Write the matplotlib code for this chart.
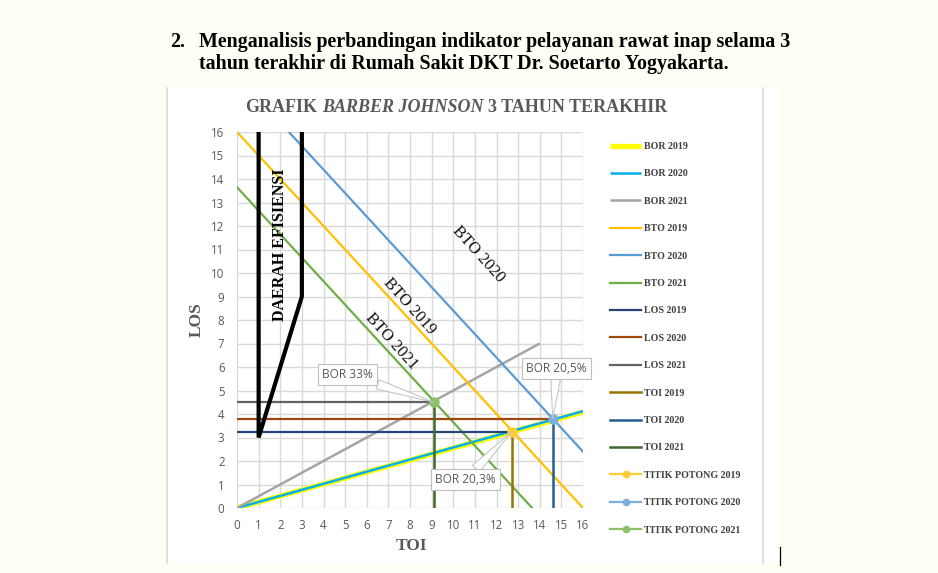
import matplotlib
matplotlib.use("Agg")
import matplotlib.pyplot as plt
from matplotlib.lines import Line2D
from matplotlib.patches import Rectangle

# nilai per tahun (2019, 2020, 2021)
years = ["2019", "2020", "2021"]
toi = [12.7, 14.6, 9.1]
los = [3.25, 3.8, 4.5]
bor_text = ["BOR 20,3%", "BOR 20,5%", "BOR 33%"]

# garis BOR (dari titik 0,0)
bor_x = [[0, 16], [0, 16], [0, 14]]
bor_y = [[0, 4.08], [0, 4.12], [0, 7.0]]

# garis BTO
bto_x = [[0, 16], [2.4, 16], [0, 13.65]]
bto_y = [[16, 0], [16, 2.4], [13.65, 0]]

# daerah efisiensi
eff_x = [1, 1, 3, 3]
eff_y = [16, 3, 9, 16]

ticks = list(range(0, 17))

bor_col = ["#FFFF00", "#00B0F0", "#A5A5A5"]
bto_col = ["#FFC000", "#5B9BD5", "#70AD47"]
los_col = ["#264478", "#9E480E", "#636363"]
toi_col = ["#997300", "#255E91", "#43682B"]
tp_col = ["#FFCD33", "#7CAFDD", "#8CC168"]

serif = "Liberation Serif"
gray_txt = "#595959"

fig = plt.figure(figsize=(9.38, 5.73), dpi=100)
fig.patch.set_facecolor("#FFFEF4")

# kotak putih chart
fig.add_artist(Rectangle((167/938, 1-563/573), (779-167)/938, (563-88)/573,
                         transform=fig.transFigure, fc="white", ec="none", zorder=0))
fig.add_artist(Line2D([167/938, 167/938], [1-563/573, 1-88/573], transform=fig.transFigure,
                      color="#D9D9D9", lw=1.2))
fig.add_artist(Line2D([763/938, 763/938], [1-563/573, 1-88/573], transform=fig.transFigure,
                      color="#D9D9D9", lw=1.2))
fig.add_artist(Line2D([780/938, 780/938], [1-565/573, 1-547/573], transform=fig.transFigure,
                      color="black", lw=0.9))

# judul halaman
fig.text(170/938, 1-47/573, "2.", family=serif, weight="bold", fontsize=14.4, va="baseline")
fig.text(199/938, 1-47/573, "Menganalisis perbandingan indikator pelayanan rawat inap selama 3",
         family=serif, weight="bold", fontsize=14.4, va="baseline")
fig.text(199/938, 1-69.5/573, "tahun terakhir di Rumah Sakit DKT Dr. Soetarto Yogyakarta.",
         family=serif, weight="bold", fontsize=14.4, va="baseline")

ax = fig.add_axes([237/938, 1-508/573, 346/938, 376/573])
ax.set_facecolor("white")

for i in range(3):
    lw = 3.8 if i == 0 else 1.8
    ax.plot(bor_x[i], bor_y[i], color=bor_col[i], lw=lw, label="BOR " + years[i],
            solid_capstyle="butt")
for i in range(3):
    ax.plot(bto_x[i], bto_y[i], color=bto_col[i], lw=1.6, label="BTO " + years[i])
for i in range(3):
    ax.plot([0, toi[i]], [los[i], los[i]], color=los_col[i], lw=1.6, label="LOS " + years[i])
for i in range(3):
    ax.plot([toi[i], toi[i]], [0, los[i]], color=toi_col[i], lw=1.8, label="TOI " + years[i])
for i in range(3):
    ax.plot([toi[i]], [los[i]], "-o", color=tp_col[i], ms=6.5, lw=1.6,
            label="TITIK POTONG " + years[i])

ax.plot(eff_x, eff_y, color="black", lw=3, solid_joinstyle="miter", zorder=5)

ax.set_xlim(0, 16)
ax.set_ylim(0, 16)
ax.set_xticks(ticks)
ax.set_yticks(ticks)
ax.grid(True, color="#D9D9D9", lw=1)
ax.set_axisbelow(True)
for s in ax.spines.values():
    s.set_visible(False)
ax.tick_params(length=0, labelsize=8.3, labelcolor=gray_txt)
ax.tick_params(axis="x", pad=8)
ax.tick_params(axis="y", pad=9)
for lab in ax.get_xticklabels() + ax.get_yticklabels():
    lab.set_family("Open Sans")

ax.set_xlabel("TOI", family=serif, weight="bold", fontsize=12.5, color=gray_txt, va="center")
ax.set_ylabel("LOS", family=serif, weight="bold", fontsize=12.5, color=gray_txt, va="center")
ax.xaxis.set_label_coords(0.503, -0.101)
ax.yaxis.set_label_coords(-0.116, 0.5)

# teks dalam grafik
ax.text(2.0, 11.2, "DAERAH EFISIENSI", rotation=90, ha="center", va="center",
        family=serif, weight="bold", fontsize=11.5, color="black")
ax.text(11.15, 10.78, "BTO 2020", rotation=-48, ha="center", va="center",
        family=serif, fontsize=12, color="#111111", rotation_mode="anchor")
ax.text(7.97, 8.58, "BTO 2019", rotation=-48, ha="center", va="center",
        family=serif, fontsize=12, color="#111111", rotation_mode="anchor")
ax.text(7.16, 7.09, "BTO 2021", rotation=-48, ha="center", va="center",
        family=serif, fontsize=12, color="#111111", rotation_mode="anchor")

# callout BOR
label_pos = [(10.56, 1.2), (14.77, 5.94), (5.12, 5.67)]
for i in range(3):
    ax.annotate(bor_text[i], xy=(toi[i], los[i]), xytext=label_pos[i],
                ha="center", va="center", fontsize=8.6, color=gray_txt, family="Open Sans",
                bbox=dict(boxstyle="square,pad=0.35", fc="white", ec="#BFBFBF", lw=0.8),
                arrowprops=dict(arrowstyle="wedge,tail_width=0.8", fc="white", ec="#BFBFBF",
                                lw=0.7, shrinkA=0, shrinkB=0),
                zorder=6)

# judul grafik
t1 = fig.text(245/938, 1-111.7/573, "GRAFIK", family=serif, weight="bold", fontsize=13,
              color=gray_txt, va="baseline")
t2 = ax.annotate("BARBER JOHNSON", xy=(1, 0), xycoords=t1, xytext=(3.5, 0),
                 textcoords="offset points", family=serif, weight="bold", style="italic",
                 fontsize=13, color=gray_txt, va="bottom", ha="left")
ax.annotate("3 TAHUN TERAKHIR", xy=(1, 0), xycoords=t2, xytext=(3.5, 0),
            textcoords="offset points", family=serif, weight="bold",
            fontsize=13, color=gray_txt, va="bottom", ha="left")

leg = ax.legend(loc="upper left", bbox_to_anchor=(610/938, 1-142/573),
                bbox_transform=fig.transFigure, frameon=False, borderpad=0,
                borderaxespad=0, handlelength=3.1, handletextpad=0.3, labelspacing=1.84,
                prop=dict(family=serif, weight="bold", size=7.2))
for t in leg.get_texts():
    t.set_color("#404040")
for h in leg.legend_handles:
    h.set_markersize(4.5)

fig.savefig("out.png", dpi=100, facecolor=fig.get_facecolor())
